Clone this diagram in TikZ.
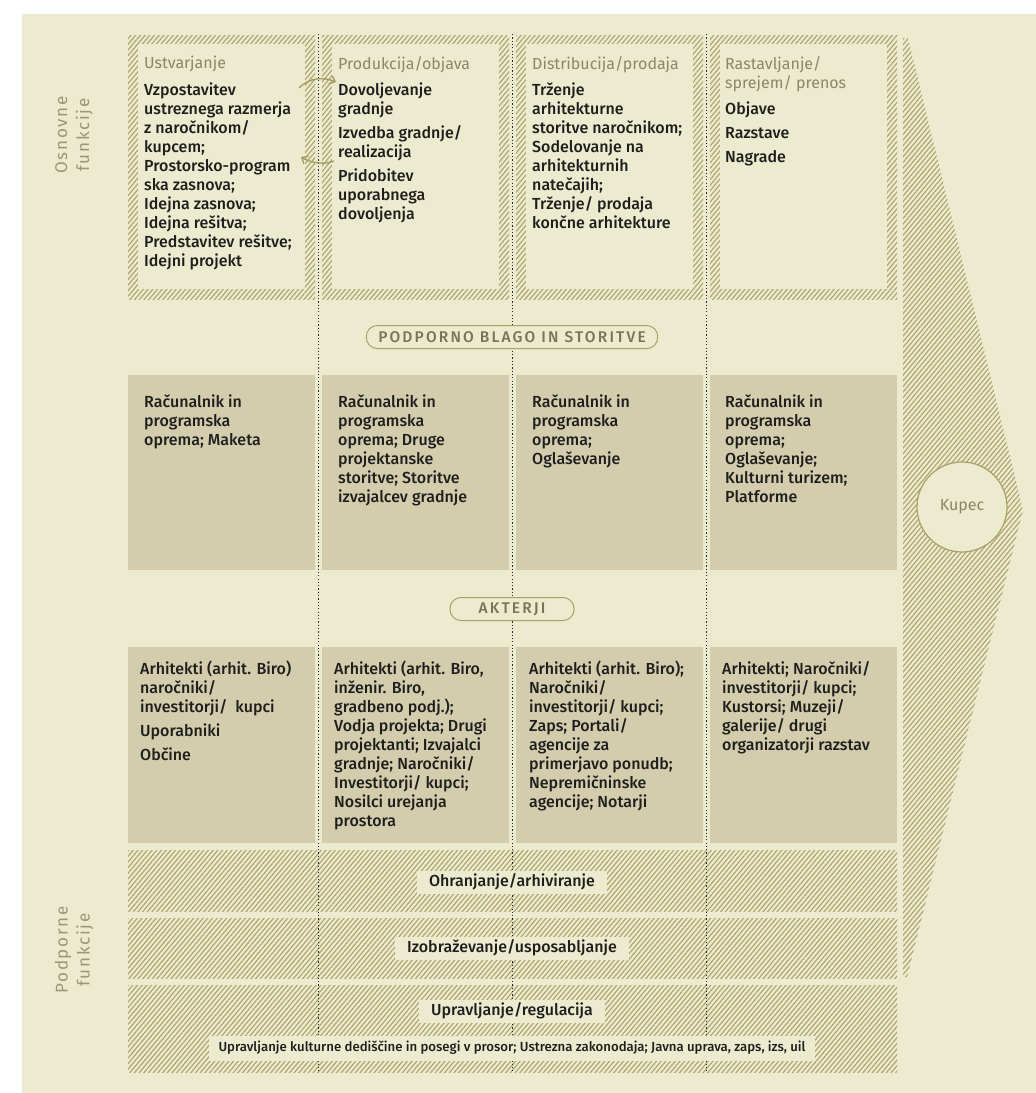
\documentclass[tikz,border=0pt]{standalone}
\usepackage{fontspec}
\setmainfont{Fira Sans}
\newfontfamily\medfont{Fira Sans Medium}
\newfontfamily\pillfont{Fira Sans Medium}[LetterSpace=14]
\newfontfamily\sidefont{Fira Sans}[LetterSpace=10]
\usetikzlibrary{arrows.meta, positioning, patterns.meta}

\definecolor{bg}{RGB}{236,234,207}
\definecolor{boxc}{RGB}{211,205,173}
\definecolor{hatchc}{RGB}{170,163,105}
\definecolor{headc}{RGB}{140,135,100}
\definecolor{sidec}{RGB}{155,151,117}
\definecolor{pillc}{RGB}{170,161,100}
\definecolor{pilltc}{RGB}{120,116,85}
\definecolor{bodyc}{RGB}{30,30,28}
\definecolor{dotc}{RGB}{40,40,40}
\definecolor{arrowc}{RGB}{163,155,95}

\newcommand{\bodyfs}{\fontsize{16}{19}\selectfont}

\begin{document}
\begin{tikzpicture}[x=1pt, y=-1pt,
      hatch/.style={pattern={Lines[angle=50, distance=3.6pt, line width=1.1pt]}, pattern color=hatchc},
      colhead/.style={anchor=north west, inner sep=0pt, align=left, text=headc, font=\bodyfs},
      coltext/.style={anchor=north west, inner sep=0pt, align=left, text=bodyc, font=\medfont\bodyfs},
      pill/.style={draw=pillc, line width=1pt, rounded corners=11pt, fill=bg, minimum height=23pt, inner xsep=12pt, text=pilltc, font=\pillfont\fontsize{15.5}{17}\selectfont},
      divider/.style={draw=dotc, line width=1.3pt, dash pattern=on 1.2pt off 2.1pt},
      bandlabel/.style={fill=bg, inner xsep=12pt, inner ysep=0pt, minimum height=23pt, text=bodyc, font=\medfont\bodyfs},
      sidelabel/.style={align=center, text=sidec, font=\sidefont\fontsize{17}{22}\selectfont},
      flow/.style={draw=arrowc, line width=1.3pt, -{Straight Barb[length=5pt, width=9pt]}}
    ]

      % page and background
      \useasboundingbox (0,0) rectangle (1036,1093);
      \fill[bg] (22,14) rectangle (1036,1093);

      % hatched frames of the four main functions
      \foreach \xl in {128,322,516,710} {
        \fill[hatch] (\xl,35) rectangle ++(187,264);
        \fill[bg] (\xl+10,44) rectangle ++(167,245);
      }

      % shaded boxes for goods/services and actors
      \foreach \xl in {128,322,516,710} {
        \fill[boxc] (\xl,375) rectangle ++(187,195);
        \fill[boxc] (\xl,647) rectangle ++(187,196);
      }

      % supporting function bands
      \fill[hatch] (128,850) rectangle (897,911);
      \fill[hatch] (128,918) rectangle (897,978);
      \fill[hatch] (128,985) rectangle (897,1072);

      % dotted column dividers
      \foreach \xd in {318.5,512.5,706.5} {
        \draw[divider] (\xd,34) -- (\xd,1072);
      }

      % chevron towards the customer
      \fill[hatch] (903,38) -- (908,38) -- (1023,510) -- (907,977) -- (903,977) -- cycle;
      \node[circle, draw=pillc, line width=1.2pt, fill=bg, minimum size=90pt, inner sep=0pt,
            text=headc, font=\fontsize{16}{18}\selectfont] (kupec) at (962,507) {Kupec};

      % side labels
      \node[sidelabel, rotate=90] (osnovne) at (74,135) {Osnovne\\funkcije};
      \node[sidelabel, rotate=90] (podporne) at (74,950) {Podporne\\funkcije};

      % column headings and main functions
      \node[colhead] (ustv) at (144,56) {Ustvarjanje};
      \node[coltext, below=10pt of ustv.south west, anchor=north west] (ustvtext) {
        Vzpostavitev\\ustreznega razmerja\\z naročnikom/\\kupcem;\\Prostorsko-program\\ska zasnova;\\
        Idejna zasnova;\\Idejna rešitva;\\Predstavitev rešitve;\\Idejni projekt};

      \node[colhead] (prod) at (338,56) {Produkcija/objava};
      \node[coltext, below=10pt of prod.south west, anchor=north west] (prodtext) {
        Dovoljevanje\\gradnje\\[5pt]Izvedba gradnje/\\realizacija\\[5pt]Pridobitev\\uporabnega\\dovoljenja};

      \node[colhead] (distr) at (532,56) {Distribucija/prodaja};
      \node[coltext, below=10pt of distr.south west, anchor=north west] (distrtext) {
        Trženje\\arhitekturne\\storitve naročnikom;\\Sodelovanje na\\arhitekturnih\\natečajih;\\
        Trženje/ prodaja\\končne arhitekture};

      \node[colhead] (rast) at (725,56) {Rastavljanje/\\sprejem/ prenos};
      \node[coltext, below=10pt of rast.south west, anchor=north west] (rasttext) {
        Objave\\[5pt]Razstave\\[5pt]Nagrade};

      % arrows between creation and production
      \coordinate (ustvout) at (299,88);
      \coordinate (prodin) at (336,82);
      \coordinate (prodback) at (334,161);
      \coordinate (ustvin) at (301,157);
      \draw[flow] (ustvout) .. controls (310,77) and (324,77) .. (prodin);
      \draw[flow] (prodback) .. controls (324,165) and (311,163) .. (ustvin);

      % supporting goods and services
      \node[pill] (blago) at (512,337) {PODPORNO BLAGO IN STORITVE};
      \node[coltext] (blago1) at (144,394) {Računalnik in\\programska\\oprema; Maketa};
      \node[coltext] (blago2) at (338,394) {Računalnik in\\programska\\oprema; Druge\\projektanske\\storitve; Storitve\\izvajalcev gradnje};
      \node[coltext] (blago3) at (532,394) {Računalnik in\\programska\\oprema;\\Oglaševanje};
      \node[coltext] (blago4) at (725,394) {Računalnik in\\programska\\oprema;\\Oglaševanje;\\Kulturni turizem;\\Platforme};

      % actors
      \node[pill, minimum width=124pt] (akterji) at (512,609) {AKTERJI};
      \node[coltext] (akter1) at (140,661) {Arhitekti (arhit. Biro)\\naročniki/\\investitorji/~~kupci\\[5pt]Uporabniki\\[5pt]Občine};
      \node[coltext] (akter2) at (334,661) {Arhitekti (arhit. Biro,\\inženir. Biro,\\gradbeno podj.);\\Vodja projekta; Drugi\\projektanti; Izvajalci\\gradnje; Naročniki/\\Investitorji/ kupci;\\Nosilci urejanja\\prostora};
      \node[coltext] (akter3) at (529,661) {Arhitekti (arhit. Biro);\\Naročniki/\\investitorji/ kupci;\\Zaps; Portali/\\agencije za\\primerjavo ponudb;\\Nepremičninske\\agencije; Notarji};
      \node[coltext] (akter4) at (722,661) {Arhitekti; Naročniki/\\investitorji/ kupci;\\Kustorsi; Muzeji/\\galerije/ drugi\\organizatorji razstav};

      % band labels
      \node[bandlabel] (ohran) at (512,882) {Ohranjanje/arhiviranje};
      \node[bandlabel] (izobr) at (512,948) {Izobraževanje/usposabljanje};
      \node[bandlabel] (uprav) at (512,1011) {Upravljanje/regulacija};
      \node[bandlabel, inner xsep=10pt, minimum height=25pt, font=\medfont\fontsize{13.2}{15}\selectfont] (dedisc) at (512,1048)
        {Upravljanje kulturne dediščine in posegi v prosor; Ustrezna zakonodaja; Javna uprava, zaps, izs, uil};

    \end{tikzpicture}
\end{document}
